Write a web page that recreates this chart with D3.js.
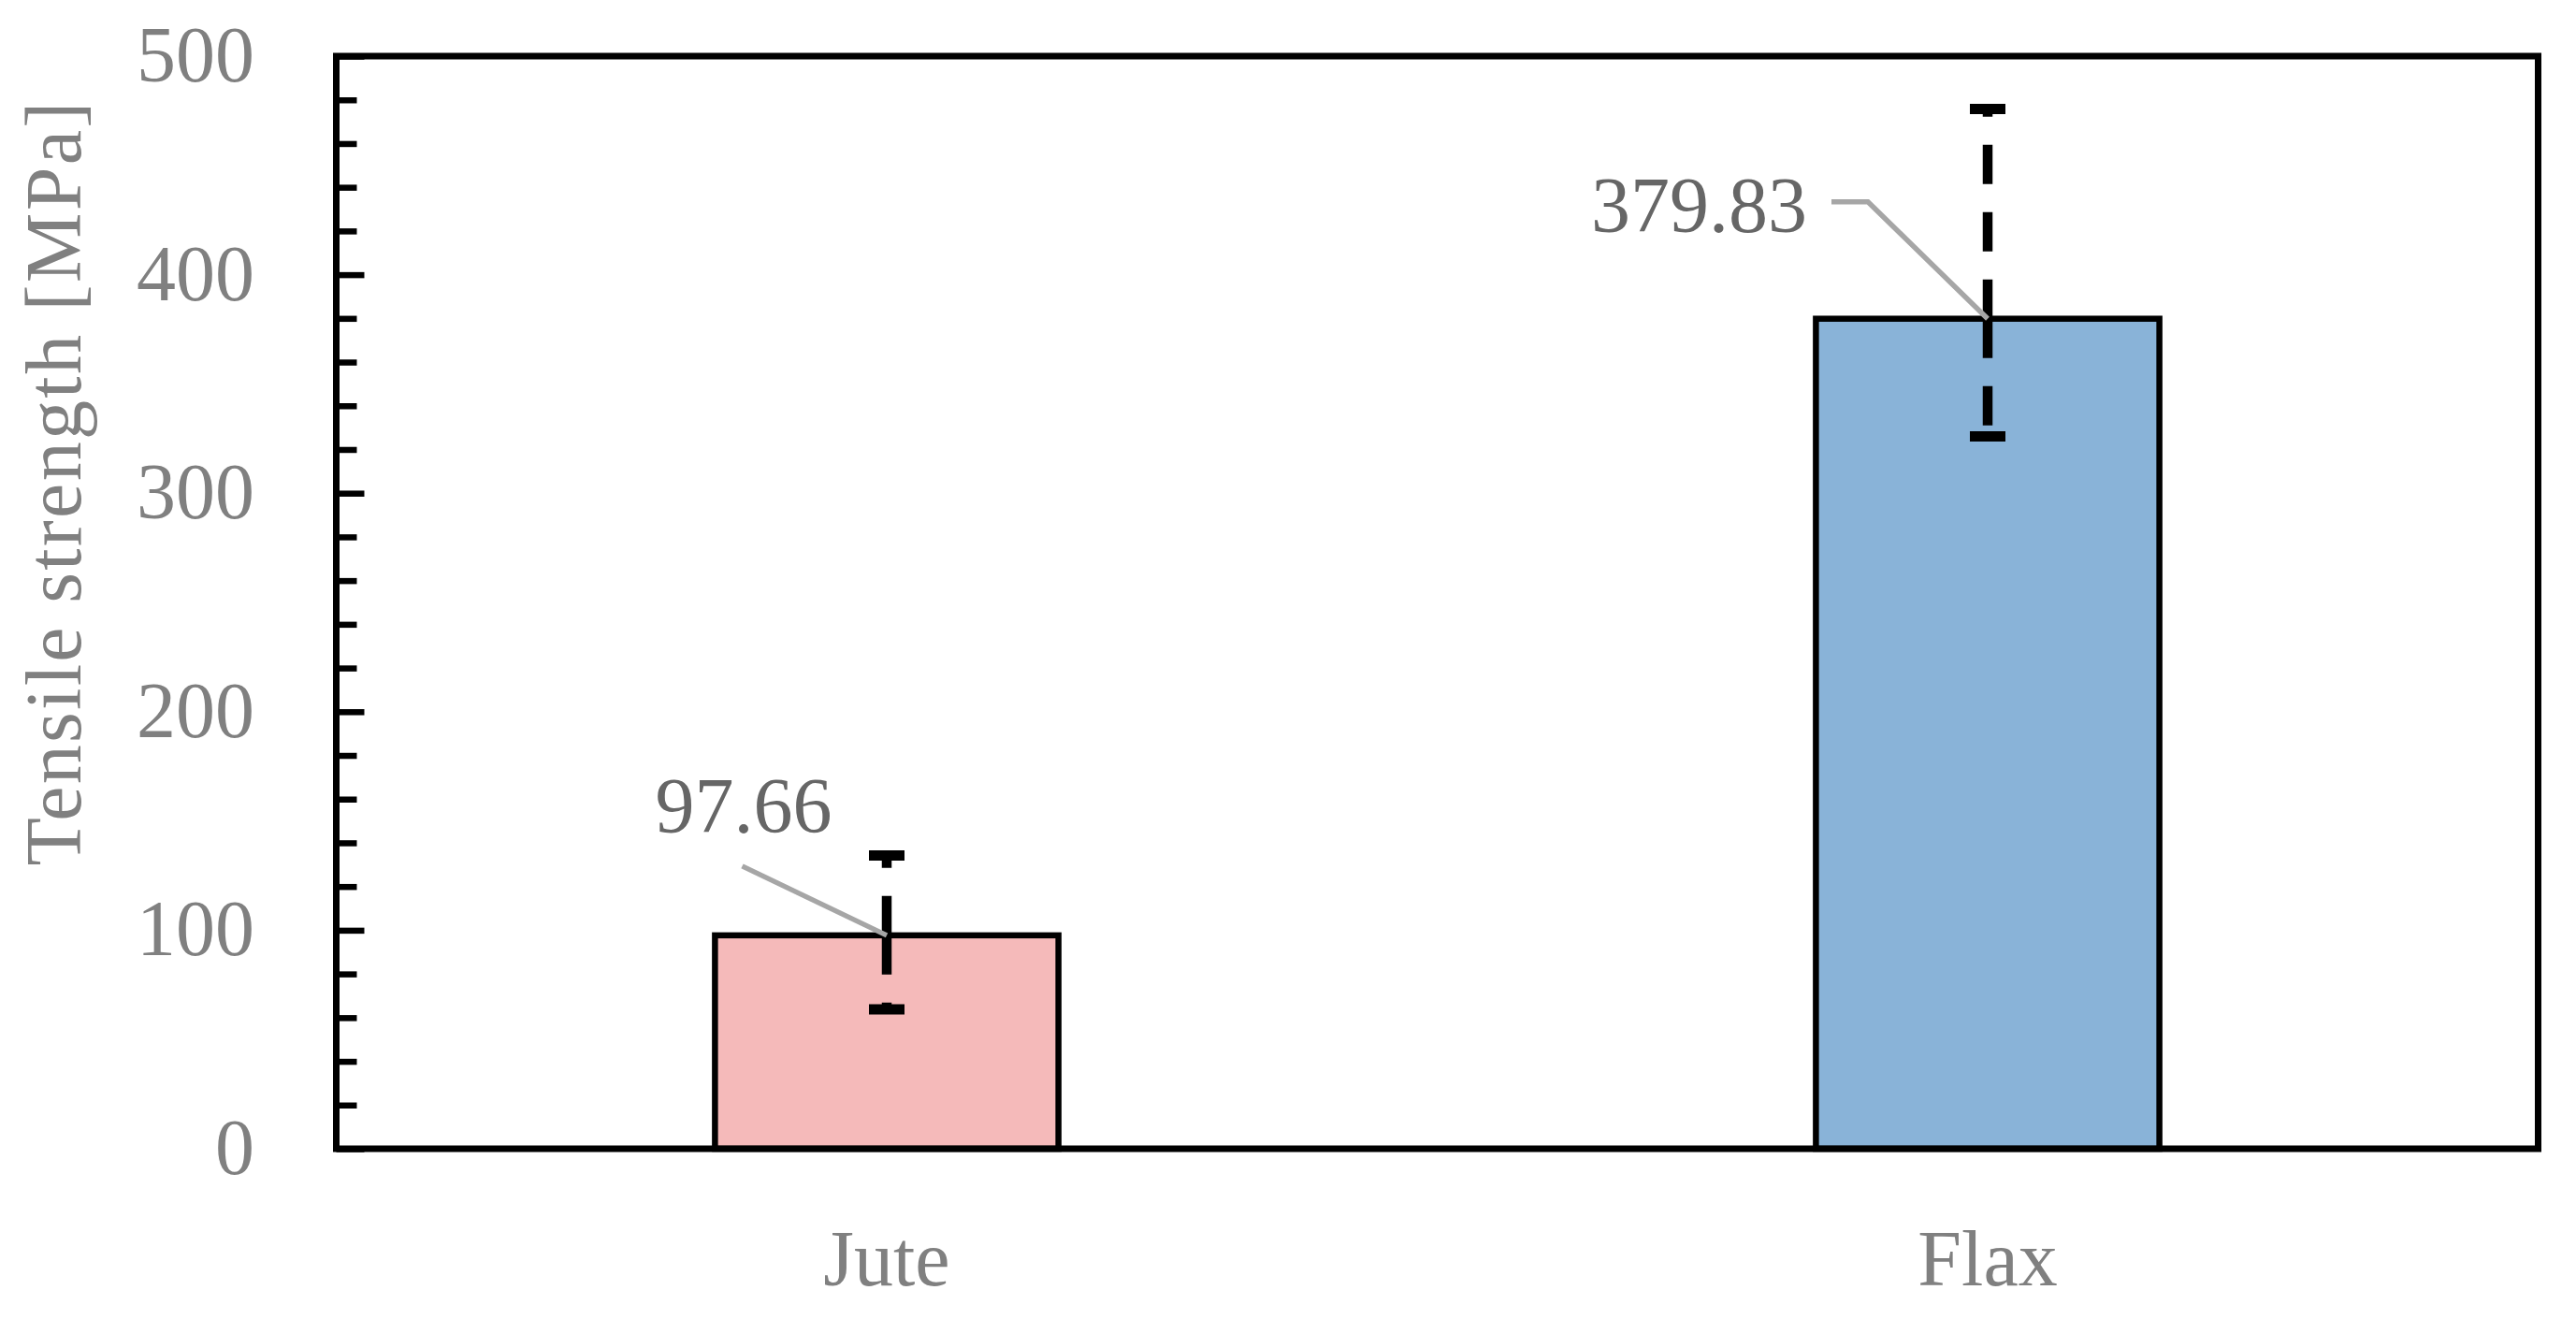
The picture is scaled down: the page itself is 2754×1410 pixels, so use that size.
<!DOCTYPE html>
<html>
<head>
<meta charset="utf-8">
<script src="https://cdn.jsdelivr.net/npm/d3@7"></script>
<style>
  html, body { margin: 0; padding: 0; background: #fff; }
  svg { display: block; }
</style>
</head>
<body>
<svg id="chart" width="2754" height="1410"></svg>
<script>
// ---- data ----
const categories = ["Jute", "Flax"];
const values = [97.66, 379.83];
const errUpper = [134.2, 475.8];
const errLower = [63.8, 326.0];
const valueLabels = ["97.66", "379.83"];
const yTicksMajor = [0, 100, 200, 300, 400, 500];
const yTicksMinor = d3.range(0, 501, 20);
const yTitle = "Tensile strength [MPa]";

(function () {
// ---- styling / layout (not data) ----
const barColors = ["#F5BABA", "#89B3D8"];
const FONT = "'Liberation Serif', 'Times New Roman', serif";
const FS = 84;
const pLeft = 359.5, pRight = 2713.5, pTop = 60, pBottom = 1228;
// data-label placement, relative to bar top centre
const labelLayout = [
  { anchor: "middle", dx: -153, dy: -110, leader: [[-154.5, -74], [0, 0]] },
  { anchor: "end", dx: -193, dy: -93, leader: [[-167, -125], [-128, -125], [0, 0]] }
];

const svg = d3.select("#chart");

const x = d3.scaleBand().domain(categories).range([pLeft, pRight])
  .paddingInner(0.688).paddingOuter(0.344);
const y = d3.scaleLinear().domain([0, 500]).range([pBottom, pTop]);

const data = categories.map((c, i) => ({
  c, v: values[i], up: errUpper[i], lo: errLower[i], lab: valueLabels[i], col: barColors[i], L: labelLayout[i]
}));

// bars
svg.append("g").selectAll("rect").data(data).join("rect")
  .attr("x", d => x(d.c))
  .attr("y", d => y(d.v))
  .attr("width", x.bandwidth())
  .attr("height", d => y(0) - y(d.v))
  .attr("fill", d => d.col)
  .attr("stroke", "#000")
  .attr("stroke-width", 6.5);

// error bars (dashed, drawn from mean outward)
const eb = svg.append("g");
data.forEach(d => {
  const cx = x(d.c) + x.bandwidth() / 2;
  [d.up, d.lo].forEach(e => {
    eb.append("line")
      .attr("x1", cx).attr("x2", cx)
      .attr("y1", y(d.v)).attr("y2", y(e))
      .attr("stroke", "#000").attr("stroke-width", 10.5)
      .attr("stroke-dasharray", "42,30");
    eb.append("line")
      .attr("x1", cx - 19).attr("x2", cx + 19)
      .attr("y1", y(e)).attr("y2", y(e))
      .attr("stroke", "#000").attr("stroke-width", 11);
  });
});

// frame
svg.append("rect")
  .attr("x", pLeft).attr("y", pTop)
  .attr("width", pRight - pLeft).attr("height", pBottom - pTop)
  .attr("fill", "none").attr("stroke", "#000").attr("stroke-width", 7);

// y axis ticks (inward)
const yAxisMinor = d3.axisRight(y).tickValues(yTicksMinor.filter(t => t % 100 !== 0))
  .tickSize(22).tickFormat("");
const yAxisMajor = d3.axisRight(y).tickValues(yTicksMajor).tickSize(30).tickFormat("");
[yAxisMinor, yAxisMajor].forEach(ax => {
  const g = svg.append("g").attr("transform", `translate(${pLeft},0)`).call(ax);
  g.select(".domain").remove();
  g.selectAll(".tick line").attr("stroke", "#000").attr("stroke-width", 6.5);
});

// y tick labels
svg.append("g").selectAll("text").data(yTicksMajor).join("text")
  .attr("x", 272)
  .attr("y", d => y(d) + 27)
  .attr("text-anchor", "end")
  .attr("font-family", FONT).attr("font-size", FS)
  .attr("fill", "#808080")
  .text(d => d);

// x category labels
svg.append("g").selectAll("text").data(categories).join("text")
  .attr("x", d => x(d) + x.bandwidth() / 2)
  .attr("y", 1374)
  .attr("text-anchor", "middle")
  .attr("font-family", FONT).attr("font-size", FS)
  .attr("fill", "#808080")
  .text(d => d);

// y title
svg.append("text")
  .attr("transform", "translate(86,516) rotate(-90)")
  .attr("text-anchor", "middle")
  .attr("font-family", FONT).attr("font-size", FS)
  .attr("letter-spacing", 2.3)
  .attr("fill", "#808080")
  .text(yTitle);

// leader lines
const line = d3.line();
svg.append("g").selectAll("path").data(data).join("path")
  .attr("d", d => {
    const cx = x(d.c) + x.bandwidth() / 2, cy = y(d.v);
    return line(d.L.leader.map(p => [cx + p[0], cy + p[1]]));
  })
  .attr("fill", "none").attr("stroke", "#A6A6A6").attr("stroke-width", 5.5);

// data labels
svg.append("g").selectAll("text").data(data).join("text")
  .attr("x", d => x(d.c) + x.bandwidth() / 2 + d.L.dx)
  .attr("y", d => y(d.v) + d.L.dy)
  .attr("text-anchor", d => d.L.anchor)
  .attr("font-family", FONT).attr("font-size", FS)
  .attr("fill", "#666666")
  .text(d => d.lab);
})();
</script>
</body>
</html>
